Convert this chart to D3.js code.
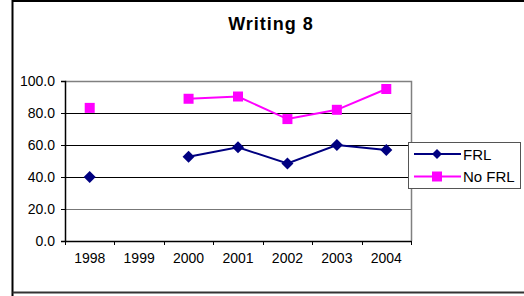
<!DOCTYPE html>
<html>
<head>
<meta charset="utf-8">
<script src="https://cdn.jsdelivr.net/npm/d3@7"></script>
<style>
  body { margin: 0; background: #fff; }
  text { font-family: Arial, "Liberation Sans", sans-serif; }
</style>
</head>
<body>
<div id="chart"></div>
<script>
// chart data
var years = ["1998", "1999", "2000", "2001", "2002", "2003", "2004"];
var frl = [40.0, null, 52.6, 58.6, 48.4, 60.0, 56.9];
var noFrl = [83.2, null, 88.9, 90.3, 76.2, 82.0, 95.0];
var yTicks = [0, 20, 40, 60, 80, 100];
var seriesNames = ["FRL", "No FRL"];

var width = 524, height = 296;
var margin = {top: 81, right: 113, bottom: 55, left: 65};

var svg = d3.select("#chart")
  .append("svg")
    .attr("width", width)
    .attr("height", height);

// outer chart border (right edge runs off the picture)
svg.append("path")
  .attr("d", "M12.5,300 V1 H530")
  .attr("fill", "none")
  .attr("stroke", "#000")
  .attr("stroke-width", 2);
svg.append("line")
  .attr("x1", 12.5).attr("x2", 530)
  .attr("y1", 292.5).attr("y2", 292.5)
  .attr("stroke", "#333").attr("stroke-width", 2);

// title
svg.append("text")
  .attr("x", 271)
  .attr("y", 30)
  .attr("text-anchor", "middle")
  .attr("font-size", "18px")
  .attr("font-weight", "bold")
  .attr("letter-spacing", "1px")
  .text("Writing 8");

var x = d3.scaleBand()
  .domain(years)
  .range([margin.left, width - margin.right])
  .padding(0);

var y = d3.scaleLinear()
  .domain([0, 100])
  .range([height - margin.bottom, margin.top]);

// gridlines
svg.append("g")
  .selectAll("line")
  .data(yTicks.filter(function(d) { return d > 0 && d < 100; }))
  .enter()
  .append("line")
    .attr("x1", margin.left)
    .attr("x2", width - margin.right)
    .attr("y1", function(d) { return Math.round(y(d)) + 0.5; })
    .attr("y2", function(d) { return Math.round(y(d)) + 0.5; })
    .attr("stroke", function(d) { return d == 20 ? "#777" : "#000"; })
    .attr("stroke-width", 1);

// plot area border top / right
svg.append("path")
  .attr("d", "M" + margin.left + "," + (Math.round(y(100)) + 0.5) +
             " H" + (width - margin.right + 0.5) +
             " V" + y(0))
  .attr("fill", "none")
  .attr("stroke", "#808080")
  .attr("stroke-width", 1.5);

// Y axis
var yAxis = svg.append("g")
  .attr("transform", "translate(" + margin.left + ",0)")
  .call(d3.axisLeft(y).tickValues(yTicks).tickSize(4).tickPadding(6)
    .tickFormat(d3.format(".1f")));
yAxis.select(".domain").attr("stroke", "#000").attr("stroke-width", 1.5);
yAxis.selectAll(".tick line").attr("stroke", "#000");
yAxis.selectAll("text").attr("font-size", "14px").attr("fill", "#000")
  .attr("font-family", "Arial, 'Liberation Sans', sans-serif");

// X axis
var xAxis = svg.append("g")
  .attr("transform", "translate(0," + y(0) + ")")
  .call(d3.axisBottom(x).tickSize(0).tickPadding(12));
xAxis.select(".domain").attr("stroke", "#000").attr("stroke-width", 1.5);
xAxis.selectAll("text").attr("font-size", "14px").attr("fill", "#000")
  .attr("font-family", "Arial, 'Liberation Sans', sans-serif");

// tick marks between categories
var bounds = years.map(function(d) { return x(d); }).concat([x(years[years.length - 1]) + x.bandwidth()]);
xAxis.selectAll(".sep")
  .data(bounds)
  .enter()
  .append("line")
    .attr("x1", function(d) { return Math.round(d) + 0.5; })
    .attr("x2", function(d) { return Math.round(d) + 0.5; })
    .attr("y1", 0)
    .attr("y2", 4)
    .attr("stroke", "#000");

var cx = function(i) { return x(years[i]) + x.bandwidth() / 2; };

var line = d3.line()
  .defined(function(d) { return d != null; })
  .x(function(d, i) { return cx(i); })
  .y(function(d) { return y(d); });

// No FRL series
svg.append("path")
  .datum(noFrl)
  .attr("fill", "none")
  .attr("stroke", "#ff00ff")
  .attr("stroke-width", 2)
  .attr("d", line);
svg.append("g")
  .selectAll("rect")
  .data(noFrl.map(function(v, i) { return {v: v, i: i}; }).filter(function(d) { return d.v != null; }))
  .enter()
  .append("rect")
    .attr("x", function(d) { return cx(d.i) - 5; })
    .attr("y", function(d) { return y(d.v) - 5; })
    .attr("width", 10)
    .attr("height", 10)
    .attr("fill", "#ff00ff");

// FRL series
svg.append("path")
  .datum(frl)
  .attr("fill", "none")
  .attr("stroke", "#000080")
  .attr("stroke-width", 2)
  .attr("d", line);
svg.append("g")
  .selectAll("path")
  .data(frl.map(function(v, i) { return {v: v, i: i}; }).filter(function(d) { return d.v != null; }))
  .enter()
  .append("path")
    .attr("d", function(d) {
      var px = cx(d.i), py = y(d.v);
      return "M" + px + "," + (py - 6) + " L" + (px + 6) + "," + py +
             " L" + px + "," + (py + 6) + " L" + (px - 6) + "," + py + " Z";
    })
    .attr("fill", "#000080");

// legend
var legend = svg.append("g");
legend.append("rect")
  .attr("x", 408.5).attr("y", 142.5)
  .attr("width", 112).attr("height", 46)
  .attr("fill", "#fff")
  .attr("stroke", "#555")
  .attr("stroke-width", 1);

var rows = legend.selectAll(".row")
  .data(seriesNames)
  .enter()
  .append("g")
    .attr("transform", function(d, i) { return "translate(0," + (i == 0 ? 154 : 176.5) + ")"; });
rows.append("line")
  .attr("x1", 414).attr("x2", 461)
  .attr("y1", 0).attr("y2", 0)
  .attr("stroke", function(d, i) { return i == 0 ? "#000080" : "#ff00ff"; })
  .attr("stroke-width", 2);
rows.append("path")
  .attr("d", function(d, i) {
    return i == 0 ? "M437,-5 L442,0 L437,5 L432,0 Z" : "M432,-5 H442 V5 H432 Z";
  })
  .attr("fill", function(d, i) { return i == 0 ? "#000080" : "#ff00ff"; });
rows.append("text")
  .attr("x", 463)
  .attr("y", 5.5)
  .attr("font-size", "15px")
  .text(function(d) { return d; });
</script>
</body>
</html>
